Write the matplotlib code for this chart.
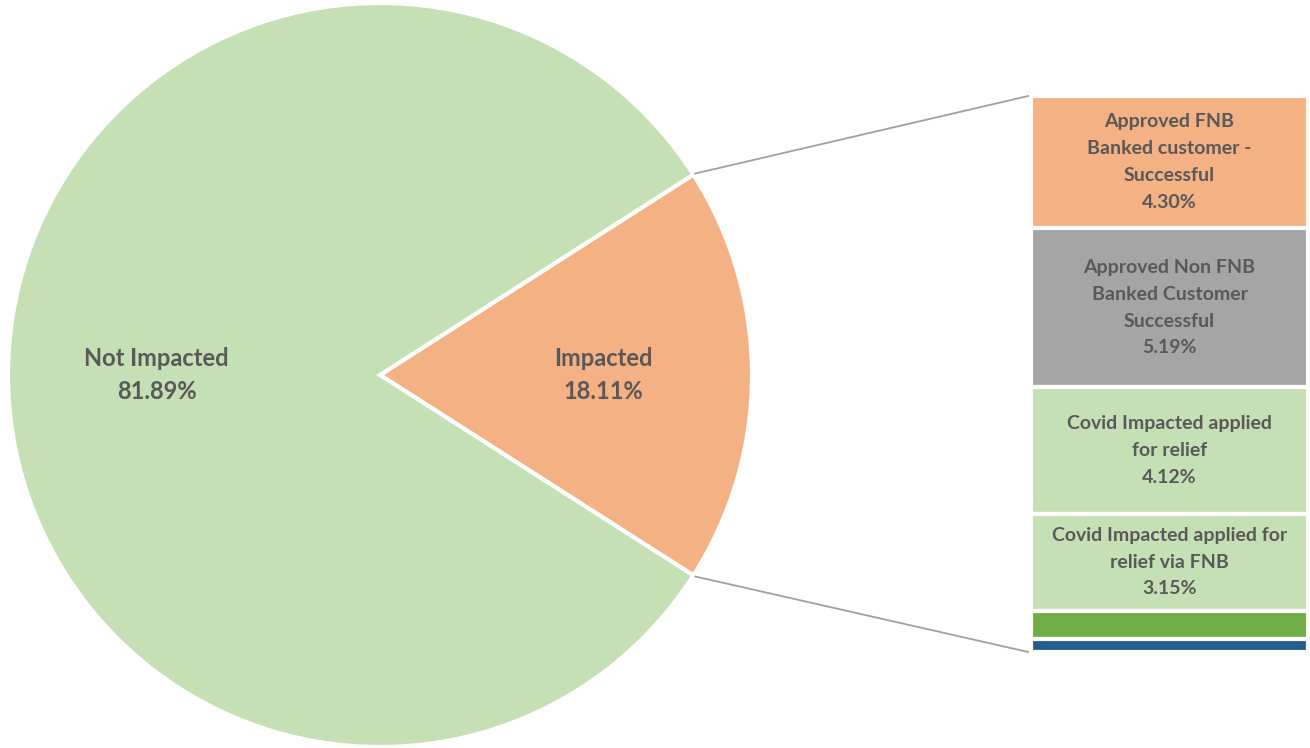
import numpy as np
import matplotlib.pyplot as plt
from matplotlib.patches import ConnectionPatch

plt.rcParams['font.family'] = ['Lato', 'DejaVu Sans']

# pie data
pie_labels = ["Impacted", "Not Impacted"]
pie_values = [18.11, 81.89]
pie_colors = ["#f4b183", "#c5e0b4"]

# breakdown of the impacted slice (top to bottom)
bar_labels = ["Approved FNB\nBanked customer -\nSuccessful",
              "Approved Non FNB\nBanked Customer\nSuccessful",
              "Covid Impacted applied\nfor relief",
              "Covid Impacted applied for\nrelief via FNB",
              "", ""]
bar_values = [4.30, 5.19, 4.12, 3.15, 0.93, 0.42]
bar_colors = ["#f4b183", "#a5a5a5", "#c5e0b4", "#c5e0b4", "#70ad47", "#255e91"]

text_color = "#595959"

fig = plt.figure(figsize=(13.1, 7.48), dpi=100)
W, H = 1310, 748

# pie axes (centre ~ (380, 375) px, radius ~372 px)
ax = fig.add_axes([8 / W, 1 / H, 744 / W, 744 / H])
half = pie_values[0] / 100 * 360 / 2
texts = [f"{l}\n{v:.2f}%" for l, v in zip(pie_labels, pie_values)]
wedges, _ = ax.pie(pie_values, colors=pie_colors, startangle=-half,
                   labels=texts, labeldistance=0.6,
                   wedgeprops=dict(edgecolor="white", linewidth=3),
                   textprops=dict(ha="center", va="center", fontsize=17,
                                  fontweight="bold", color=text_color,
                                  multialignment="center", linespacing=1.5))
ax.set_xlim(-1, 1)
ax.set_ylim(-1, 1)
ax.set_aspect("equal")

# stacked bar axes
bx = fig.add_axes([1031 / W, (H - 652) / H, 277 / W, 556 / H])
total = sum(bar_values)
top = total
for lab, val, col in zip(bar_labels, bar_values, bar_colors):
    bx.bar(0, val, bottom=top - val, width=1, color=col,
           edgecolor="white", linewidth=3)
    if lab:
        bx.text(0, top - val / 2, f"{lab}\n{val:.2f}%", ha="center", va="center",
                fontsize=14, fontweight="bold", color=text_color,
                linespacing=1.7)
    top -= val
bx.set_xlim(-0.5, 0.5)
bx.set_ylim(0, total)
bx.axis("off")

# connector lines
th = np.deg2rad(half)
for sgn, y in [(1, total), (-1, 0)]:
    con = ConnectionPatch(xyA=(np.cos(th) * 1.005, sgn * np.sin(th) * 1.005),
                          coordsA=ax.transData,
                          xyB=(-0.51, y), coordsB=bx.transData,
                          color="#a0a0a0", linewidth=1.3)
    fig.add_artist(con)

fig.savefig("out.png", dpi=100)
